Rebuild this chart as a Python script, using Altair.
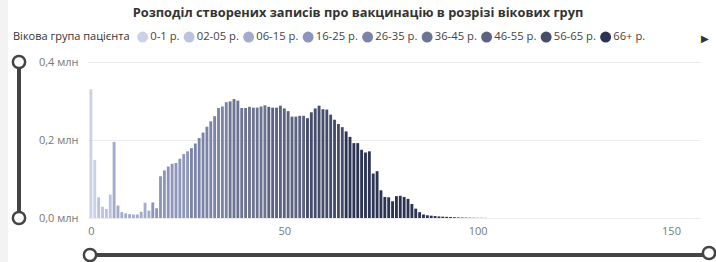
import altair as alt
import pandas as pd

# ---- data (values in millions) ----
ages = list(range(0, 103))
counts_mln = [
    0.330, 0.149, 0.053, 0.029, 0.023, 0.060, 0.195, 0.032, 0.015, 0.012,
    0.010, 0.009, 0.009, 0.016, 0.039, 0.019, 0.040, 0.025, 0.107, 0.122,
    0.132, 0.139, 0.141, 0.152, 0.164, 0.171, 0.179, 0.191, 0.205, 0.219,
    0.234, 0.248, 0.261, 0.282, 0.286, 0.297, 0.299, 0.305, 0.301, 0.282,
    0.282, 0.285, 0.283, 0.283, 0.286, 0.289, 0.285, 0.283, 0.283, 0.288,
    0.281, 0.274, 0.260, 0.260, 0.262, 0.262, 0.256, 0.271, 0.281, 0.288,
    0.279, 0.278, 0.265, 0.252, 0.241, 0.233, 0.222, 0.208, 0.192, 0.192,
    0.175, 0.168, 0.171, 0.114, 0.120, 0.071, 0.054, 0.053, 0.043, 0.056,
    0.057, 0.054, 0.049, 0.036, 0.024, 0.015, 0.009, 0.007, 0.006, 0.005,
    0.004, 0.0035, 0.003, 0.0025, 0.002, 0.0015, 0.0012, 0.001, 0.0008, 0.0006,
    0.0005, 0.0004, 0.0003,
]
group_labels = ["0-1 р.", "02-05 р.", "06-15 р.", "16-25 р.", "26-35 р.",
                "36-45 р.", "46-55 р.", "56-65 р.", "66+ р."]
group_first_age = [0, 2, 6, 16, 26, 36, 46, 56, 66]
group_colors = ["#CBD1E7", "#BCC3DE", "#A4ACCD", "#8D96BA", "#7B84A6",
                "#6C7490", "#5B6380", "#454D6B", "#2C3454"]

title_text = "Розподіл створених записів про вакцинацію в розрізі вікових груп"
legend_title = "Вікова група пацієнта"
x_ticks = [0, 50, 100, 150]
y_ticks = [0, 0.2, 0.4]


def group_of(a):
    g = 0
    for i, start in enumerate(group_first_age):
        if a >= start:
            g = i
    return group_labels[g]


df = pd.DataFrame({"age": ages, "value": counts_mln})
df["group"] = [group_of(a) for a in ages]

FONT = "Open Sans"
W, H = 612, 156

color_scale = alt.Scale(domain=group_labels, range=group_colors)

bars = alt.Chart(df).transform_calculate(
    a0="datum.age - 0.37", a1="datum.age + 0.37"
).mark_bar(orient="vertical").encode(
    x=alt.X("a0:Q", scale=alt.Scale(domain=[-0.75, 157.5], nice=False, zero=False,
                                    padding=0),
            axis=alt.Axis(values=x_ticks, title=None, grid=False, domain=False,
                          ticks=False, labelColor="#777777", labelFontSize=11,
                          labelPadding=7, labelFont=FONT, labelFlush=False)),
    x2="a1:Q",
    y=alt.Y("value:Q", scale=alt.Scale(domain=[0, 0.4], nice=False, padding=0),
            axis=alt.Axis(values=y_ticks, title=None, domain=False, ticks=False,
                          gridColor="#EBEBEB", gridWidth=1,
                          labelColor="#777777", labelFontSize=11, labelPadding=10,
                          labelFont=FONT,
                          labelExpr="replace(format(datum.value, '.1f'), '.', ',') + ' млн'")),
    y2=alt.datum(0),
    color=alt.Color("group:N", scale=color_scale,
                    legend=alt.Legend(
                        title=legend_title, orient="none", legendX=-75, legendY=-31,
                        direction="horizontal", titleOrient="left",
                        titleFontWeight="normal", titleFontSize=11,
                        titleColor="#333333", titleFont=FONT, titlePadding=7,
                        labelFontSize=11.25, labelColor="#444444", labelFont=FONT,
                        symbolType="circle", symbolSize=120, symbolStrokeWidth=0,
                        labelOffset=2, columnPadding=3.5, labelLimit=200)),
)

one = pd.DataFrame({"k": [0]})

title = alt.Chart(one).mark_text(
    text=title_text, font=FONT, fontSize=12.8, fontWeight="bold",
    color="#333333", align="center", baseline="middle"
).encode(x=alt.value(358 - 88), y=alt.value(12.5 - 62))

arrow = alt.Chart(one).mark_text(
    text="▶", fontSize=10, color="#333333", align="center", baseline="middle"
).encode(x=alt.value(705 - 88), y=alt.value(39 - 62))

strip = alt.Chart(one).mark_rect(color="#F3F3F3").encode(
    x=alt.value(-88), x2=alt.value(-80), y=alt.value(-62), y2=alt.value(200))

vline = alt.Chart(one).mark_rule(color="#444444", strokeWidth=4).encode(
    x=alt.value(19 - 88), y=alt.value(0), y2=alt.value(H))
hline = alt.Chart(one).mark_rule(color="#444444", strokeWidth=4).encode(
    x=alt.value(90 - 88), x2=alt.value(709 - 88), y=alt.value(255 - 62))

knobs = pd.DataFrame({"kx": [19 - 88, 19 - 88, 90 - 88, 709 - 88],
                      "ky": [0, H, 255 - 62, 253 - 62]})
knob = alt.Chart(knobs).mark_point(
    shape="circle", size=150, fill="white", fillOpacity=1, stroke="#444444",
    strokeWidth=2.5, opacity=1
).encode(x=alt.X("kx:Q", scale=None), y=alt.Y("ky:Q", scale=None))

chart = alt.layer(strip, bars, vline, hline, knob, title, arrow).resolve_scale(
    x="independent", y="independent"
).properties(
    width=W, height=H,
    autosize=alt.AutoSizeParams(type="none"),
    padding={"left": 88, "top": 62, "right": 16, "bottom": 44},
    background="white",
).configure_view(stroke=None)

chart.save("out.html", embed_options={"renderer": "svg", "actions": False})
